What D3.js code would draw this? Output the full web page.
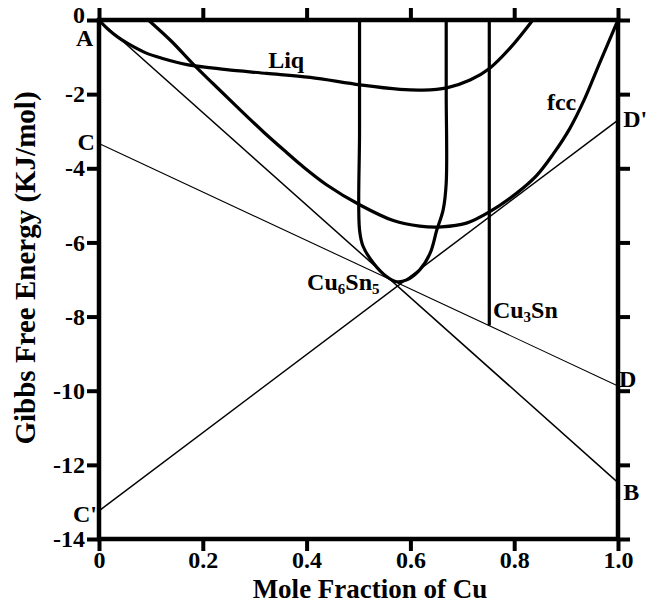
<!DOCTYPE html>
<html>
<head>
<meta charset="utf-8">
<script src="https://cdn.jsdelivr.net/npm/d3@7"></script>
<style>
  body { margin: 0; background: #fff; }
  svg text { font-family: "Liberation Serif", "Times New Roman", serif; font-weight: bold; fill: #000; }
</style>
</head>
<body>
<div id="chart"></div>
<script>
// Ticks
const xTicks = [0, 0.2, 0.4, 0.6, 0.8, 1.0];
const xTickLabels = ['0', '0.2', '0.4', '0.6', '0.8', '1.0'];
const yTicks = [0, -2, -4, -6, -8, -10, -12, -14];
const yTickLabels = ['0', '-2', '-4', '-6', '-8', '-10', '-12', '-14'];

// Gibbs curves [x(Cu), G(kJ/mol)]
const liqCurve = [
  [0, 0], [0.018, -0.26], [0.037, -0.47], [0.056, -0.64], [0.089, -0.88],
  [0.121, -1.03], [0.172, -1.21], [0.217, -1.29], [0.246, -1.34], [0.323, -1.44],
  [0.407, -1.55], [0.503, -1.75], [0.58, -1.87], [0.624, -1.89], [0.67, -1.83],
  [0.715, -1.62], [0.753, -1.30], [0.792, -0.76], [0.836, 0]
];
const fccCurve = [
  [0.095, 0], [0.14, -0.58], [0.18, -1.17], [0.22, -1.72], [0.265, -2.33],
  [0.317, -3.02], [0.362, -3.58], [0.39, -3.92], [0.439, -4.45], [0.503, -4.99],
  [0.567, -5.41], [0.618, -5.56], [0.66, -5.58], [0.708, -5.48], [0.753, -5.17],
  [0.805, -4.67], [0.843, -4.2], [0.875, -3.62], [0.907, -2.93], [0.935, -2.15],
  [0.965, -1.15], [1.0, 0]
];
const cu6sn5Curve = [
  [0.502, 0], [0.502, -3], [0.502, -5.66], [0.509, -6.11], [0.529, -6.56],
  [0.554, -6.92], [0.574, -7.06], [0.593, -7.01], [0.618, -6.74], [0.638, -6.29],
  [0.651, -5.66], [0.663, -5.13], [0.669, -4.4], [0.669, -2], [0.669, 0]
];
const cu3snLine = [[0.752, 0], [0.752, -8.24]];

// Tangent lines
const lineAB = [[0, 0], [1, -12.48]];
const lineCD = [[0, -3.33], [1, -9.87]];
const lineCpDp = [[0, -13.24], [1, -2.70]];

// Labels [text, x, G, anchor]
const pointLabels = [
  ['A', -0.011, -0.7, 'end'],
  ['C', -0.008, -3.51, 'end'],
  ["C'", -0.004, -13.54, 'end'],
  ['D', 1.002, -9.90, 'start'],
  ['B', 1.01, -12.95, 'start'],
  ["D'", 1.01, -2.89, 'start'],
  ['Liq', 0.326, -1.29, 'start'],
  ['fcc', 0.863, -2.43, 'start']
];

const width = 647, height = 612;

const svg = d3.select('#chart').append('svg')
  .attr('width', width)
  .attr('height', height);

svg.append('rect').attr('width', width).attr('height', height).attr('fill', '#fff');

const x = d3.scaleLinear().domain([0, 1]).range([99, 618]);
const y = d3.scaleLinear().domain([-14, 0]).range([539, 20]);

const line = d3.line()
  .x(d => x(d[0]))
  .y(d => y(d[1]));
const smooth = d3.line()
  .x(d => x(d[0]))
  .y(d => y(d[1]))
  .curve(d3.curveCatmullRom.alpha(0.5));

// Thin tangent lines
[[lineAB, 1.5], [lineCD, 1.1], [lineCpDp, 1.5]].forEach(([pts, w]) => {
  svg.append('path')
    .attr('d', line(pts))
    .attr('fill', 'none')
    .attr('stroke', '#000')
    .attr('stroke-width', w);
});

// Thick phase curves
[liqCurve, fccCurve, cu6sn5Curve].forEach(pts => {
  svg.append('path')
    .attr('d', smooth(pts))
    .attr('fill', 'none')
    .attr('stroke', '#000')
    .attr('stroke-width', 3.2)
    .attr('stroke-linejoin', 'round');
});
svg.append('path')
  .attr('d', line(cu3snLine))
  .attr('fill', 'none')
  .attr('stroke', '#000')
  .attr('stroke-width', 3.2);

// Axes (ticks outward on all four sides)
function styleAxis(g) {
  g.select('.domain').remove();
  g.selectAll('.tick line').attr('stroke', '#000').attr('stroke-width', 4);
  g.selectAll('.tick text')
    .attr('font-size', 24)
    .attr('font-family', '"Liberation Serif", "Times New Roman", serif')
    .attr('font-weight', 'bold');
}

svg.append('g')
  .attr('transform', `translate(0,${y(-14)})`)
  .call(d3.axisBottom(x).tickValues(xTicks).tickSize(12).tickPadding(0)
    .tickFormat((d, i) => xTickLabels[i]))
  .call(styleAxis);

svg.append('g')
  .attr('transform', `translate(0,${y(0)})`)
  .call(d3.axisTop(x).tickValues(xTicks).tickSize(12).tickFormat(''))
  .call(styleAxis);

svg.append('g')
  .attr('transform', `translate(${x(0)},0)`)
  .call(d3.axisLeft(y).tickValues(yTicks).tickSize(12).tickPadding(2)
    .tickFormat((d, i) => yTickLabels[i]))
  .call(styleAxis)
  .call(g => g.selectAll('.tick text').filter(d => d === 0).attr('dy', '0.12em'));

svg.append('g')
  .attr('transform', `translate(${x(1)},0)`)
  .call(d3.axisRight(y).tickValues(yTicks).tickSize(12).tickFormat(''))
  .call(styleAxis);

// Frame
svg.append('rect')
  .attr('x', x(0))
  .attr('y', y(0))
  .attr('width', x(1) - x(0))
  .attr('height', y(-14) - y(0))
  .attr('fill', 'none')
  .attr('stroke', '#000')
  .attr('stroke-width', 4.5);

// Point and phase labels
svg.selectAll('text.pt')
  .data(pointLabels)
  .join('text')
  .attr('class', 'pt')
  .attr('x', d => x(d[1]))
  .attr('y', d => y(d[2]))
  .attr('text-anchor', d => d[3])
  .attr('font-size', 24)
  .text(d => d[0]);

// Compound labels with subscripts
function compoundLabel(parts, px, py) {
  const t = svg.append('text')
    .attr('x', x(px))
    .attr('y', y(py))
    .attr('font-size', 24);
  let shifted = false;
  parts.forEach(([s, sub]) => {
    const dy = sub && !shifted ? 4 : (!sub && shifted ? -4 : 0);
    shifted = !!sub;
    t.append('tspan')
      .attr('font-size', sub ? 15 : 24)
      .attr('dy', dy)
      .text(s);
  });
}
compoundLabel([['Cu'], ['6', true], ['Sn'], ['5', true]], 0.401, -7.28);
compoundLabel([['Cu'], ['3', true], ['Sn']], 0.759, -8.04);

// Axis titles
svg.append('text')
  .attr('x', 370)
  .attr('y', 598)
  .attr('text-anchor', 'middle')
  .attr('font-size', 27)
  .text('Mole Fraction of Cu');

svg.append('text')
  .attr('transform', 'translate(35,268) rotate(-90)')
  .attr('text-anchor', 'middle')
  .attr('font-size', 29)
  .text('Gibbs Free Energy (KJ/mol)');
</script>
</body>
</html>
